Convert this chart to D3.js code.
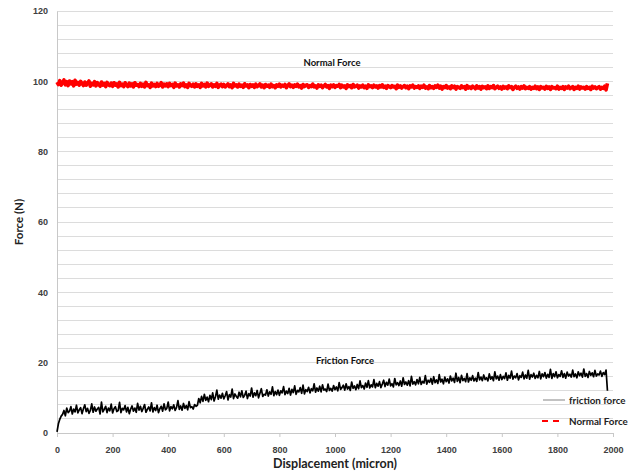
<!DOCTYPE html>
<html>
<head>
<meta charset="utf-8">
<script src="https://cdn.jsdelivr.net/npm/d3@7"></script>
<style>
  html, body { margin: 0; padding: 0; background: #fff; }
  svg { display: block; font-family: Lato, "Liberation Sans", sans-serif; }
</style>
</head>
<body>
<svg id="chart" width="629" height="472"></svg>
<script>
// Displacement samples (micron), shared by both recorded signals
const displacement = [
  0,5,10,15,20,25,30,35,40,45,50,55,60,65,70,75,80,85,90,95,
  100,105,110,115,120,125,130,135,140,145,150,155,160,165,170,175,180,185,190,195,
  200,205,210,215,220,225,230,235,240,245,250,255,260,265,270,275,280,285,290,295,
  300,305,310,315,320,325,330,335,340,345,350,355,360,365,370,375,380,385,390,395,
  400,405,410,415,420,425,430,435,440,445,450,455,460,465,470,475,480,485,490,495,
  500,505,510,515,520,525,530,535,540,545,550,555,560,565,570,575,580,585,590,595,
  600,605,610,615,620,625,630,635,640,645,650,655,660,665,670,675,680,685,690,695,
  700,705,710,715,720,725,730,735,740,745,750,755,760,765,770,775,780,785,790,795,
  800,805,810,815,820,825,830,835,840,845,850,855,860,865,870,875,880,885,890,895,
  900,905,910,915,920,925,930,935,940,945,950,955,960,965,970,975,980,985,990,995,
  1000,1005,1010,1015,1020,1025,1030,1035,1040,1045,1050,1055,1060,1065,1070,1075,1080,1085,1090,1095,
  1100,1105,1110,1115,1120,1125,1130,1135,1140,1145,1150,1155,1160,1165,1170,1175,1180,1185,1190,1195,
  1200,1205,1210,1215,1220,1225,1230,1235,1240,1245,1250,1255,1260,1265,1270,1275,1280,1285,1290,1295,
  1300,1305,1310,1315,1320,1325,1330,1335,1340,1345,1350,1355,1360,1365,1370,1375,1380,1385,1390,1395,
  1400,1405,1410,1415,1420,1425,1430,1435,1440,1445,1450,1455,1460,1465,1470,1475,1480,1485,1490,1495,
  1500,1505,1510,1515,1520,1525,1530,1535,1540,1545,1550,1555,1560,1565,1570,1575,1580,1585,1590,1595,
  1600,1605,1610,1615,1620,1625,1630,1635,1640,1645,1650,1655,1660,1665,1670,1675,1680,1685,1690,1695,
  1700,1705,1710,1715,1720,1725,1730,1735,1740,1745,1750,1755,1760,1765,1770,1775,1780,1785,1790,1795,
  1800,1805,1810,1815,1820,1825,1830,1835,1840,1845,1850,1855,1860,1865,1870,1875,1880,1885,1890,1895,
  1900,1905,1910,1915,1920,1925,1930,1935,1940,1945,1950,1955,1960,1965,1970,1975,1980
];

// Friction force (N)
const frictionForce = [
  0.3,2.6,3.9,4.8,5.3,6.4,4.9,7.1,5.8,6.2,
  7.5,5.4,6.8,6.0,7.9,5.7,6.6,7.2,5.5,6.9,
  8.0,6.1,7.0,5.6,6.4,8.3,5.9,7.4,6.2,6.8,
  7.3,5.4,8.8,6.0,6.7,7.6,5.8,7.1,6.3,8.2,
  5.7,6.9,7.5,6.1,6.4,8.7,5.8,7.0,6.6,7.8,
  6.0,7.3,5.5,6.8,7.7,6.2,7.1,5.9,8.4,6.5,
  7.6,6.1,7.0,8.1,5.9,6.7,7.4,6.3,8.6,6.0,
  7.2,6.4,7.9,5.8,6.9,7.6,6.2,8.3,6.6,7.0,
  8.8,6.3,7.5,6.9,8.0,6.4,7.3,9.2,6.7,7.7,
  6.5,8.4,7.0,7.8,6.6,8.9,7.2,7.5,6.8,8.1,
  7.6,7.9,9.8,8.6,10.4,9.0,11.0,9.3,10.2,8.9,
  10.7,9.5,11.4,9.1,10.3,12.2,9.6,10.8,9.9,11.3,
  9.7,10.6,11.8,9.4,10.9,10.2,12.5,9.8,11.1,10.4,
  9.9,11.6,10.3,12.0,10.1,10.7,11.9,9.8,11.2,10.5,
  12.8,10.2,11.4,10.6,12.1,10.0,11.3,12.6,10.4,11.0,
  10.8,12.3,10.5,11.7,11.0,13.1,10.6,11.8,10.9,12.2,
  10.7,12.0,11.4,13.2,10.9,11.9,11.2,12.7,10.8,12.4,
  11.5,13.4,11.0,12.1,11.7,12.9,11.3,13.6,11.1,12.3,
  11.8,13.0,11.4,12.6,12.0,14.0,11.6,12.8,11.9,13.3,
  11.7,13.7,12.2,12.5,11.8,13.9,12.1,12.7,11.9,13.5,
  12.3,13.1,12.0,14.3,12.4,12.9,13.6,12.2,14.0,12.5,
  13.2,12.1,14.5,12.7,13.4,12.3,13.8,12.6,14.8,12.9,
  13.5,12.5,14.2,13.0,14.9,12.8,13.7,13.1,15.2,12.9,
  14.1,13.3,14.6,12.9,13.9,15.0,13.2,14.4,13.6,15.3,
  13.4,14.0,13.1,15.5,13.7,14.3,13.5,14.8,13.3,15.7,
  13.8,14.5,13.6,14.9,13.4,16.1,13.9,14.6,13.7,15.2,
  14.0,15.8,13.8,14.7,14.2,16.3,13.9,15.0,14.4,15.5,
  13.9,16.0,14.3,15.1,14.1,16.6,14.5,15.3,14.0,15.9,
  14.6,15.4,14.2,16.2,14.8,15.6,14.4,17.0,14.7,15.8,
  14.3,16.4,14.9,15.5,14.6,16.9,14.5,15.7,15.0,16.3,
  14.8,15.6,14.7,17.2,15.1,15.9,14.9,16.5,15.2,15.7,
  14.8,16.8,15.3,16.0,14.9,17.4,15.4,16.2,15.0,16.6,
  15.2,16.1,15.5,17.1,15.0,16.4,15.6,17.6,15.3,16.2,
  15.7,16.9,15.1,16.3,15.8,17.3,15.4,16.5,15.6,17.8,
  15.3,16.6,15.9,17.0,15.5,16.4,15.7,17.5,15.4,16.8,
  16.0,17.2,15.6,16.7,15.8,18.1,15.5,16.9,16.0,17.4,
  15.7,16.6,16.1,17.7,15.8,16.9,15.6,17.3,16.2,16.7,
  15.9,17.9,16.0,16.8,15.7,17.4,16.3,17.0,15.9,18.2,
  16.1,16.9,15.8,17.5,16.4,17.1,16.0,17.8,16.2,16.8,
  16.5,17.6,16.1,17.2,16.6,17.9,12.0
];

// Normal force (N)
const normalForce = [
  99.8,99.1,100.2,98.9,99.6,100.4,99.0,99.9,98.8,100.1,
  99.3,99.9,98.7,100.3,99.2,99.7,98.9,100.0,99.4,98.8,
  99.8,98.9,99.5,100.1,98.6,99.4,99.0,99.9,98.7,99.6,
  99.1,98.6,99.8,98.9,99.4,98.5,99.7,99.0,98.8,99.5,
  98.6,99.6,98.9,99.3,98.4,99.7,98.8,99.2,98.5,99.6,
  99.0,98.5,99.5,98.7,99.3,98.4,99.6,98.9,99.1,98.5,
  99.4,98.6,99.2,98.4,99.7,98.8,99.0,98.3,99.5,98.7,
  99.1,98.5,99.4,98.6,98.9,99.6,98.4,99.2,98.7,99.3,
  98.5,99.4,98.8,99.1,98.3,99.5,98.7,99.0,98.4,99.3,
  98.8,99.5,98.5,99.0,98.3,99.4,98.9,98.6,99.2,98.4,
  99.3,98.6,99.0,98.3,99.4,98.7,99.1,98.4,99.5,98.6,
  98.9,99.3,98.4,99.0,98.6,99.4,98.3,98.9,99.2,98.5,
  99.1,98.4,98.8,99.3,98.5,99.0,98.2,99.4,98.7,99.0,
  98.4,99.2,98.6,98.9,98.3,99.3,98.7,99.0,98.2,99.1,
  98.6,99.0,98.3,99.2,98.5,98.8,99.3,98.4,98.9,98.2,
  99.1,98.6,98.9,98.3,99.2,98.5,98.8,98.2,99.0,98.6,
  99.2,98.4,98.9,98.6,99.1,98.2,98.8,99.3,98.5,98.9,
  98.3,99.0,98.6,99.2,98.4,98.8,98.1,99.1,98.5,98.9,
  99.0,98.3,98.8,98.5,99.2,98.4,98.7,98.1,99.0,98.6,
  98.9,98.2,98.7,99.1,98.4,98.8,98.0,98.9,98.5,99.0,
  98.3,98.8,98.6,99.1,98.2,98.9,98.4,98.7,98.0,99.0,
  98.5,98.8,98.2,99.1,98.4,98.6,98.9,98.1,98.7,98.4,
  98.9,98.2,98.6,98.0,99.0,98.5,98.7,98.2,98.9,98.4,
  98.7,98.1,98.8,98.4,99.0,98.3,98.6,98.0,98.8,98.5,
  98.2,98.8,98.4,98.6,97.9,98.9,98.3,98.7,98.1,98.5,
  98.8,98.2,98.6,97.9,98.7,98.4,98.9,98.1,98.5,98.3,
  98.7,98.0,98.6,98.3,98.9,98.1,98.4,97.9,98.8,98.2,
  98.5,98.0,98.7,98.3,98.9,98.1,98.6,97.8,98.5,98.2,
  98.8,98.1,98.4,97.9,98.7,98.2,98.6,97.8,98.5,98.3,
  98.0,98.7,98.2,98.5,97.8,98.8,98.1,98.4,98.0,98.6,
  98.3,97.9,98.7,98.1,98.5,97.8,98.6,98.2,98.4,97.9,
  98.7,98.0,98.5,98.2,98.8,97.9,98.3,98.6,98.0,98.4,
  97.8,98.6,98.1,98.4,97.9,98.7,98.2,98.5,97.7,98.3,
  98.6,98.0,98.4,97.8,98.5,98.1,98.7,97.9,98.3,98.0,
  98.5,97.8,98.3,98.0,98.6,97.9,98.4,97.7,98.5,98.1,
  98.3,97.8,98.6,98.0,98.4,97.7,98.5,98.1,98.2,97.9,
  98.6,97.8,98.3,98.0,98.5,97.7,98.4,98.1,98.6,97.9,
  98.2,98.5,97.7,98.3,98.0,98.6,97.8,98.4,98.1,98.3,
  97.8,98.5,98.0,98.3,97.7,98.6,98.1,98.4,97.9,98.2,
  98.5,97.8,98.3,98.0,98.6,97.6,99.4
];

const xTicks = [0,200,400,600,800,1000,1200,1400,1600,1800,2000];
const yTicks = [0,20,40,60,80,100,120];
const gridValues = d3.range(0, 121, 4);

const svg = d3.select("#chart");
const x = d3.scaleLinear().domain([0, 2000]).range([57, 613]);
const y = d3.scaleLinear().domain([0, 120]).range([433, 11]);

// horizontal gridlines
svg.append("g").selectAll("line").data(gridValues).join("line")
  .attr("x1", x(0)).attr("x2", x(2000))
  .attr("y1", d => y(d)).attr("y2", d => y(d))
  .attr("stroke", "#dcdcdc").attr("stroke-width", 1)
  .attr("shape-rendering", "crispEdges");

// y axis
const yAxis = svg.append("g").attr("transform", `translate(${x(0)},0)`)
  .call(d3.axisLeft(y).tickValues(yTicks).tickSize(0).tickPadding(9));
yAxis.select(".domain").attr("stroke", "#c8c8c8");
yAxis.selectAll("text").attr("font-size", 9).attr("font-weight", "bold").attr("fill", "#404040");

// x axis
const xAxis = svg.append("g").attr("transform", `translate(0,${y(0)})`)
  .call(d3.axisBottom(x).tickValues(xTicks).tickFormat(d3.format("d")).tickSize(4).tickPadding(10));
xAxis.select(".domain").attr("stroke", "#c8c8c8");
xAxis.selectAll(".tick line").attr("stroke", "#c8c8c8");
xAxis.selectAll("text").attr("font-size", 9).attr("font-weight", "bold").attr("fill", "#404040");

const line = d3.line().x((d, i) => x(displacement[i])).y(d => y(d));

svg.append("path").datum(normalForce)
  .attr("d", line).attr("fill", "none")
  .attr("stroke", "#ff0000").attr("stroke-width", 3.6).attr("stroke-linejoin", "round");

svg.append("path").datum(frictionForce)
  .attr("d", line).attr("fill", "none")
  .attr("stroke", "#000").attr("stroke-width", 1.7).attr("stroke-linejoin", "round");

// series annotations
svg.append("text").attr("x", 332).attr("y", 66).attr("text-anchor", "middle")
  .attr("font-size", 9.5).attr("font-weight", "bold").attr("fill", "#111").text("Normal Force");
svg.append("text").attr("x", 345).attr("y", 364).attr("text-anchor", "middle")
  .attr("font-size", 9.5).attr("font-weight", "bold").attr("fill", "#111").text("Friction Force");

// axis titles
svg.append("text").attr("x", 335).attr("y", 468).attr("text-anchor", "middle")
  .attr("font-size", 12.5).attr("font-weight", "bold").attr("fill", "#222").text("Displacement (micron)");
svg.append("text").attr("transform", "translate(23,222) rotate(-90)").attr("text-anchor", "middle")
  .attr("font-size", 11.5).attr("font-weight", "bold").attr("fill", "#222").text("Force (N)");

// legend
const legend = svg.append("g");
legend.append("line").attr("x1", 543).attr("x2", 565).attr("y1", 400).attr("y2", 400)
  .attr("stroke", "#999").attr("stroke-width", 1.2);
legend.append("text").attr("x", 569).attr("y", 403.5).attr("font-size", 9.8)
  .attr("font-weight", "bold").attr("fill", "#222").text("friction force");
legend.append("line").attr("x1", 542).attr("x2", 562).attr("y1", 421).attr("y2", 421)
  .attr("stroke", "#ff0000").attr("stroke-width", 2).attr("stroke-dasharray", "6,5");
legend.append("text").attr("x", 569).attr("y", 424.5).attr("font-size", 9.8)
  .attr("font-weight", "bold").attr("fill", "#222").text("Normal Force");
</script>
</body>
</html>
